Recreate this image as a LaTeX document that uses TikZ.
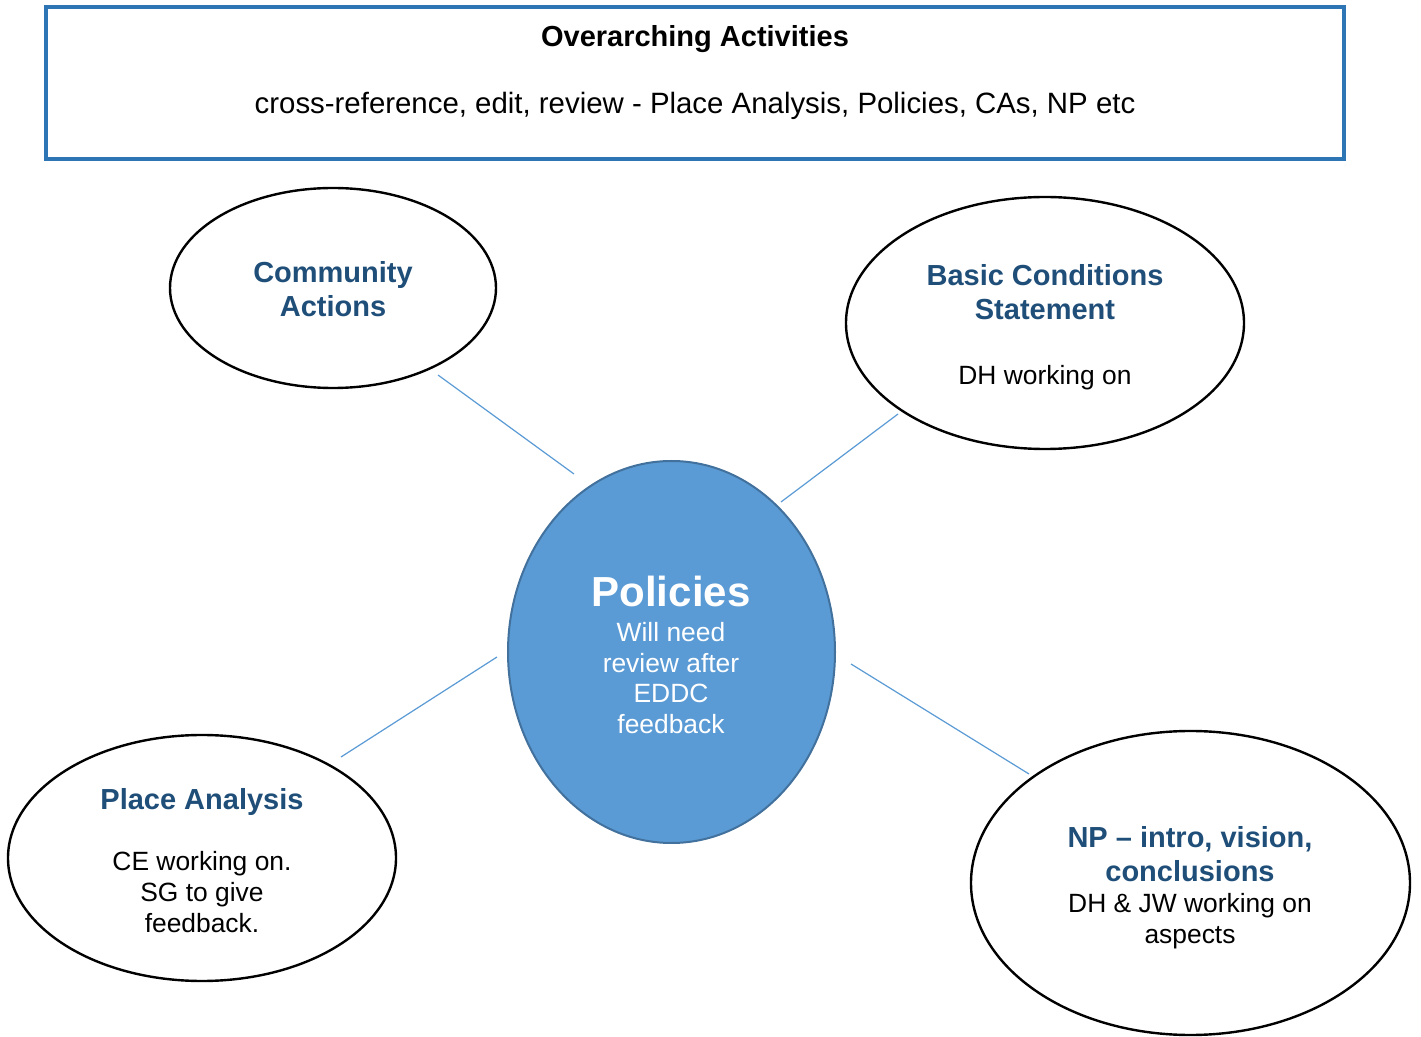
\documentclass[tikz,border=0pt]{standalone}
\usepackage{fontspec}
\setmainfont{Liberation Sans}
\usetikzlibrary{shapes.geometric}
\definecolor{boxblue}{HTML}{2E75B6}
\definecolor{headblue}{HTML}{1F4E79}
\definecolor{polfill}{HTML}{5B9BD5}
\definecolor{poldraw}{HTML}{41719C}
\definecolor{linkblue}{HTML}{5B9BD5}
\begin{document}
\begin{tikzpicture}[x=0.5pt,y=-0.5pt,
  bubble/.style={ellipse,draw=black,line width=1.2pt,inner sep=0pt,outer sep=0pt},
  head/.style={font=\fontsize{14.5}{17}\selectfont\bfseries,text=headblue,anchor=base,inner sep=0pt},
  body/.style={font=\fontsize{13.2}{15.5}\selectfont,text=black,anchor=base,inner sep=0pt},
  polhead/.style={font=\fontsize{21}{25}\selectfont\bfseries,text=white,anchor=base,inner sep=0pt},
  polbody/.style={font=\fontsize{13.2}{15.5}\selectfont,text=white,anchor=base,inner sep=0pt},
  link/.style={draw=linkblue,line width=0.6pt}]
\useasboundingbox (0,0) rectangle (1421,1037);
\fill[white] (0,0) rectangle (1421,1037);

% top box
\node[draw=boxblue,line width=2pt,rectangle,inner sep=0pt,outer sep=0pt,
  minimum width=649pt,minimum height=76pt] (top) at (695,83) {};
\node[font=\fontsize{14.5}{17}\selectfont\bfseries,anchor=base,inner sep=0pt] (toptitle) at (695,47) {Overarching Activities};
\node[font=\fontsize{14.7}{17}\selectfont,anchor=base,inner sep=0pt] (toptext) at (695,113.5) {cross-reference, edit, review - Place Analysis, Policies, CAs, NP etc};

% ellipses
\node[bubble,minimum width=163pt,minimum height=100pt] (ca) at (333,288) {};
\node[bubble,minimum width=199pt,minimum height=126pt] (bc) at (1045,323) {};
\node[ellipse,draw=poldraw,fill=polfill,line width=1pt,inner sep=0pt,outer sep=0pt,
  minimum width=163.5pt,minimum height=191pt] (pol) at (671.5,652) {};
\node[bubble,minimum width=194pt,minimum height=123pt] (pa) at (202,858) {};
\node[bubble,minimum width=219.5pt,minimum height=152pt] (np) at (1190.5,883) {};

% texts
\node[head] (ca1) at (333,282.5) {Community};
\node[head] (ca2) at (333,316.5) {Actions};

\node[head] (bc1) at (1045,285.5) {Basic Conditions};
\node[head] (bc2) at (1045,319.5) {Statement};
\node[body] (bc3) at (1045,384.5) {DH working on};

\node[polhead] (pol1) at (671,607) {Policies};
\node[polbody] (pol2) at (671,641.5) {Will need};
\node[polbody] (pol3) at (671,672.5) {review after};
\node[polbody] (pol4) at (671,702.5) {EDDC};
\node[polbody] (pol5) at (671,733.5) {feedback};

\node[head] (pa1) at (202,809.5) {Place Analysis};
\node[body] (pa2) at (202,870.5) {CE working on.};
\node[body] (pa3) at (202,901.5) {SG to give};
\node[body] (pa4) at (202,932.5) {feedback.};

\node[head] (np1) at (1190,847.5) {NP – intro, vision,};
\node[head] (np2) at (1190,881.5) {conclusions};
\node[body] (np3) at (1190,912.5) {DH \& JW working on};
\node[body] (np4) at (1190,943.5) {aspects};

% connectors (free-standing, between the bubbles)
\coordinate (caA) at (438,375);
\coordinate (caB) at (574,474);
\coordinate (bcA) at (898,414);
\coordinate (bcB) at (781,502);
\coordinate (paA) at (497,657);
\coordinate (paB) at (341,757);
\coordinate (npA) at (851,664);
\coordinate (npB) at (1029,774);
\draw[link] (caA) -- (caB);
\draw[link] (bcA) -- (bcB);
\draw[link] (paA) -- (paB);
\draw[link] (npA) -- (npB);
\end{tikzpicture}
\end{document}
